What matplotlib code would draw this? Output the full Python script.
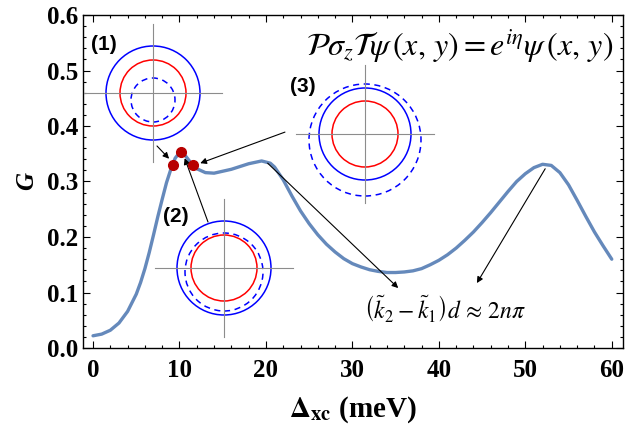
import numpy as np
import matplotlib.pyplot as plt
from matplotlib.patches import Circle

plt.rcParams['mathtext.fontset'] = 'stix'

# conductance curve G(Delta_xc)
delta_xc = [0, 1, 2, 3, 4, 5, 5.5, 6, 6.5, 7, 7.5, 8, 8.5, 9, 9.5, 10, 10.5,
            11, 11.5, 12, 13, 14, 16, 18, 19.5, 20.5, 21, 22, 23, 24, 25, 26,
            27, 28, 29, 30, 31, 32, 33, 34, 35, 36, 37, 38, 39, 40, 41, 42,
            43, 44, 45, 46, 47, 48, 49, 50, 51, 52, 53, 54, 55, 56, 57, 58,
            59, 60]
G = [0.022, 0.025, 0.032, 0.045, 0.066, 0.097, 0.118, 0.143, 0.172, 0.204,
     0.237, 0.268, 0.298, 0.322, 0.342, 0.352, 0.350, 0.340, 0.330, 0.323,
     0.316, 0.315, 0.322, 0.332, 0.337, 0.333, 0.326, 0.303, 0.274, 0.247,
     0.224, 0.204, 0.187, 0.173, 0.161, 0.152, 0.146, 0.141, 0.138, 0.136,
     0.136, 0.137, 0.139, 0.143, 0.150, 0.158, 0.168, 0.180, 0.194, 0.209,
     0.226, 0.244, 0.263, 0.282, 0.300, 0.314, 0.325, 0.331, 0.329, 0.316,
     0.294, 0.266, 0.237, 0.209, 0.184, 0.160]

# marked points (1), (2), (3)
dot_x = [9.2, 10.2, 11.6]
dot_y = [0.330, 0.353, 0.330]

# Fermi circle sketches: centre (px from top-left), radii in px
inset_labels = ['(1)', '(2)', '(3)']
inset_centers = [(153, 93), (224, 268), (365, 134)]
outer_r = [47, 47, 46]
red_r = [33, 33, 33]
dashed_r = [22, 39, 56]
dashed_shift = [-7, -4, -6]
label_pos = [(104, 44), (176, 217), (303, 87)]

W, H = 628, 428
fig = plt.figure(figsize=(W / 100, H / 100), dpi=100)
ax = fig.add_axes([83 / W, (H - 348) / H, 540 / W, 333 / H])

ax.plot(delta_xc, G, color='#6589bb', lw=2.4, solid_capstyle='round',
        solid_joinstyle='round', zorder=2)
ax.plot(dot_x, dot_y, 'o', color='#b80000', ms=7, zorder=4)

ax.set_xlim(-1.16, 61.3)
ax.set_ylim(0, 0.6)
ax.set_xticks(np.arange(0, 61, 10))
ax.set_xticks(np.arange(0, 61, 2), minor=True)
ax.set_yticks(np.arange(0, 0.61, 0.1))
ax.set_yticks(np.arange(0, 0.61, 0.02), minor=True)
ax.set_yticklabels([f'{v:.1f}' for v in np.arange(0, 0.61, 0.1)])
ax.tick_params(which='both', direction='in', top=True, right=True, width=0.8)
ax.tick_params(which='major', length=5)
ax.tick_params(which='minor', length=2.5)
ax.tick_params(axis='x', which='major', pad=8)
for lab in ax.get_xticklabels() + ax.get_yticklabels():
    lab.set_fontfamily('Liberation Serif')
    lab.set_fontweight('bold')
    lab.set_fontsize(18)
for s in ax.spines.values():
    s.set_linewidth(1.0)

ax.set_xlabel(r'$\mathbf{\Delta}_{\mathbf{xc}}$ (meV)', fontsize=21,
              fontfamily='Liberation Serif', fontweight='bold', labelpad=9)
ax.set_ylabel('G', fontsize=18, fontfamily='Liberation Serif',
              fontweight='bold', fontstyle='italic', labelpad=6)

ax.text(0.982, 0.905,
        r'$\mathcal{P}\sigma_z\mathcal{T}\psi\,\left(x,\,y\right)=e^{i\eta}\psi\,\left(x,\,y\right)$',
        transform=ax.transAxes, ha='right', va='center', fontsize=23)
ax.text(0.67, 0.12, r'$\left(\tilde{k}_2-\tilde{k}_1\right)d\,\approx\,2n\pi$',
        transform=ax.transAxes, ha='center', va='center', fontsize=17)

arrow = dict(arrowstyle='-|>', color='k', lw=0.8, mutation_scale=9,
             shrinkA=0, shrinkB=0)
ax.annotate('', xy=(8.8, 0.341), xytext=(7.4, 0.364), arrowprops=arrow)
ax.annotate('', xy=(10.6, 0.342), xytext=(13.3, 0.227), arrowprops=arrow)
ax.annotate('', xy=(12.4, 0.333), xytext=(22.2, 0.389), arrowprops=arrow)
ax.annotate('', xy=(35.3, 0.108), xytext=(20.2, 0.333), arrowprops=arrow)
ax.annotate('', xy=(44.4, 0.117), xytext=(52.3, 0.323), arrowprops=arrow)

S = 150
for i, (cx, cy) in enumerate(inset_centers):
    iax = fig.add_axes([(cx - S / 2) / W, (H - cy - S / 2) / H, S / W, S / H])
    iax.set_xlim(-S / 2, S / 2)
    iax.set_ylim(-S / 2, S / 2)
    iax.axis('off')
    iax.patch.set_alpha(0)
    iax.plot([-69, 69], [0, 0], color='#8c8c8c', lw=0.8)
    iax.plot([0, 0], [-69, 69], color='#8c8c8c', lw=0.8)
    iax.add_patch(Circle((0, 0), outer_r[i], fill=False, ec='#0000ff', lw=1.1))
    iax.add_patch(Circle((0, 0), red_r[i], fill=False, ec='#ff0000', lw=1.1))
    iax.add_patch(Circle((0, dashed_shift[i]), dashed_r[i], fill=False,
                         ec='#0000ff', lw=1.1, ls=(0, (4, 3))))

for lab, (lx, ly) in zip(inset_labels, label_pos):
    fig.text(lx / W, 1 - ly / H, lab, ha='center', va='center', fontsize=15,
             fontfamily='Liberation Sans', fontweight='bold')

fig.savefig('out.png', dpi=100)
